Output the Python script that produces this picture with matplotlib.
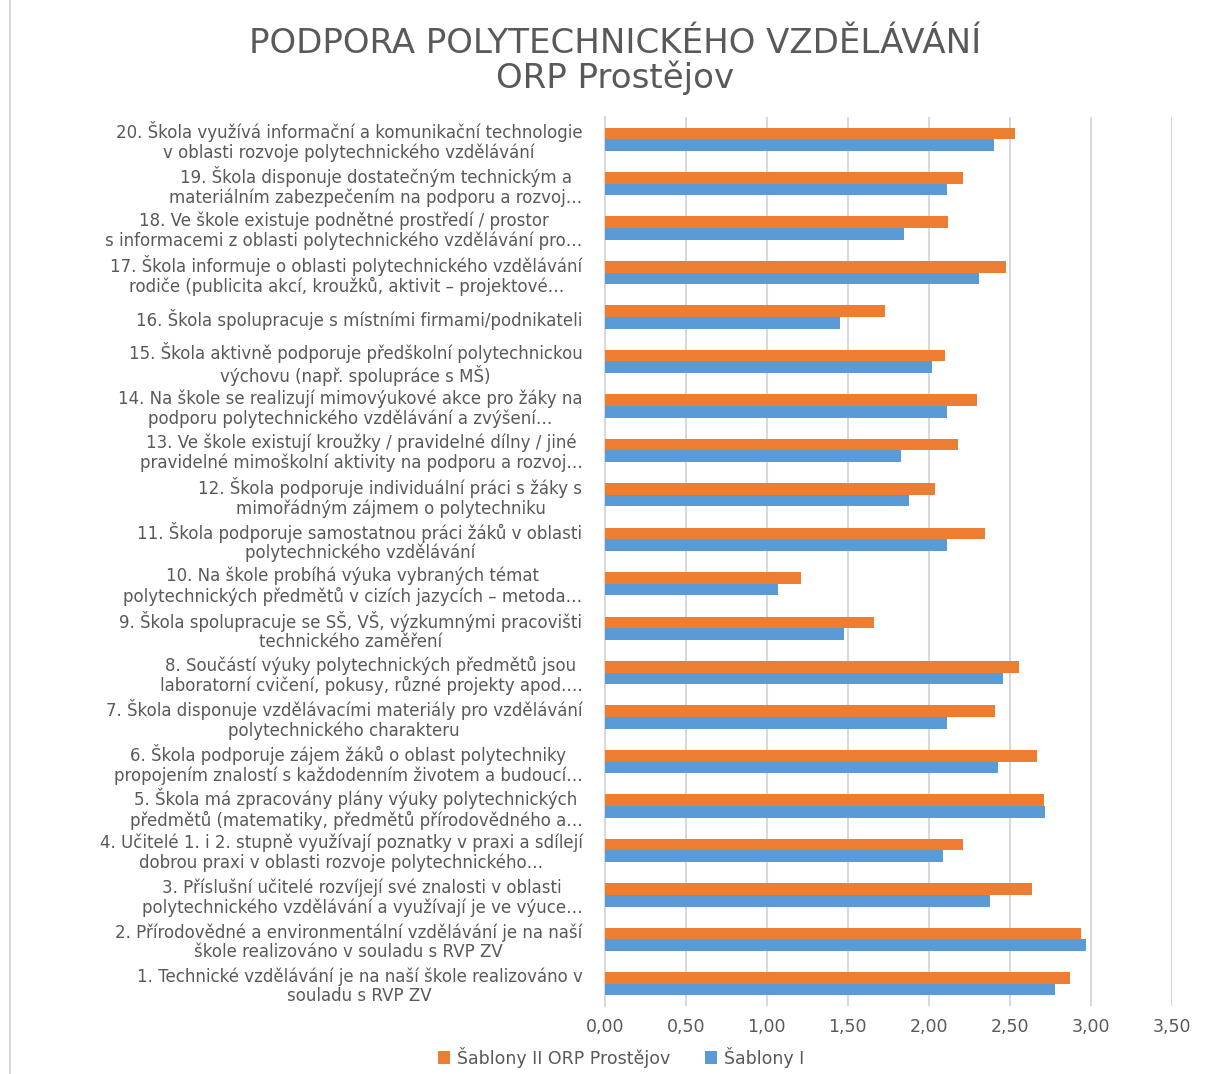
import numpy as np
import matplotlib.pyplot as plt
from matplotlib.lines import Line2D
from matplotlib.ticker import FuncFormatter

plt.rcParams['font.family'] = ['DejaVu Sans']

# popisky otázek (1 až 20), zkrácené jako v původním grafu
labels = [
    "1. Technické vzdělávání je na naší škole realizováno v\nsouladu s RVP ZV",
    "2. Přírodovědné a environmentální vzdělávání je na naší\nškole realizováno v souladu s RVP ZV",
    "3. Příslušní učitelé rozvíjejí své znalosti v oblasti\npolytechnického vzdělávání a využívají je ve výuce…",
    "4. Učitelé 1. i 2. stupně využívají poznatky v praxi a sdílejí\ndobrou praxi v oblasti rozvoje polytechnického…",
    "5. Škola má zpracovány plány výuky polytechnických\npředmětů (matematiky, předmětů přírodovědného a…",
    "6. Škola podporuje zájem žáků o oblast polytechniky\npropojením znalostí s každodenním životem a budoucí…",
    "7. Škola disponuje vzdělávacími materiály pro vzdělávání\npolytechnického charakteru",
    "8. Součástí výuky polytechnických předmětů jsou\nlaboratorní cvičení, pokusy, různé projekty apod.…",
    "9. Škola spolupracuje se SŠ, VŠ, výzkumnými pracovišti\ntechnického zaměření",
    "10. Na škole probíhá výuka vybraných témat\npolytechnických předmětů v cizích jazycích – metoda…",
    "11. Škola podporuje samostatnou práci žáků v oblasti\npolytechnického vzdělávání",
    "12. Škola podporuje individuální práci s žáky s\nmimořádným zájmem o polytechniku",
    "13. Ve škole existují kroužky / pravidelné dílny / jiné\npravidelné mimoškolní aktivity na podporu a rozvoj…",
    "14. Na škole se realizují mimovýukové akce pro žáky na\npodporu polytechnického vzdělávání a zvýšení…",
    "15. Škola aktivně podporuje předškolní polytechnickou\nvýchovu (např. spolupráce s MŠ)",
    "16. Škola spolupracuje s místními firmami/podnikateli",
    "17. Škola informuje o oblasti polytechnického vzdělávání\nrodiče (publicita akcí, kroužků, aktivit – projektové…",
    "18. Ve škole existuje podnětné prostředí / prostor\ns informacemi z oblasti polytechnického vzdělávání pro…",
    "19. Škola disponuje dostatečným technickým a\nmateriálním zabezpečením na podporu a rozvoj…",
    "20. Škola využívá informační a komunikační technologie\nv oblasti rozvoje polytechnického vzdělávání",
]

# průměrné hodnoty
sablony_ii = [2.87, 2.94, 2.64, 2.21, 2.71, 2.67, 2.41, 2.56, 1.66, 1.21,
              2.35, 2.04, 2.18, 2.30, 2.10, 1.73, 2.48, 2.12, 2.21, 2.53]
sablony_i = [2.78, 2.97, 2.38, 2.09, 2.72, 2.43, 2.11, 2.46, 1.48, 1.07,
             2.11, 1.88, 1.83, 2.11, 2.02, 1.45, 2.31, 1.85, 2.11, 2.40]

series_names = ["Šablony II ORP Prostějov", "Šablony I"]
c_orange = "#ED7D31"
c_blue = "#5B9BD5"
c_text = "#595959"
c_grid = "#D9D9D9"
fs = 12

W, H = 1208, 1074
fig = plt.figure(figsize=(W / 100, H / 100), dpi=100)
ax = fig.add_axes([604.7 / W, 1 - 1006 / H, (1171.7 - 604.7) / W, (1006 - 117) / H])

y = np.arange(len(labels))
h = 0.262
ax.barh(y + h / 2, sablony_ii, height=h, color=c_orange, label=series_names[0], zorder=3)
ax.barh(y - h / 2, sablony_i, height=h, color=c_blue, label=series_names[1], zorder=3)

ax.set_xlim(0, 3.5)
ax.set_ylim(-0.5, len(labels) - 0.5)
ax.set_xticks(np.arange(0, 3.51, 0.5))
ax.xaxis.set_major_formatter(FuncFormatter(lambda v, p: f"{v:.2f}".replace(".", ",")))
ax.grid(axis='x', color=c_grid, lw=1.5, zorder=0)

ax.set_yticks(y)
ax.set_yticklabels(labels, multialignment='center', fontsize=fs, color=c_text, linespacing=1.1)
ax.tick_params(axis='y', length=0, pad=16)
ax.tick_params(axis='x', length=0, pad=9, labelsize=12.5, labelcolor=c_text)

for s in ['top', 'right', 'bottom']:
    ax.spines[s].set_visible(False)
ax.spines['left'].set_color(c_grid)
ax.spines['left'].set_linewidth(1.5)

fig.text(615 / W, 1 - 61 / H, "PODPORA POLYTECHNICKÉHO VZDĚLÁVÁNÍ\nORP Prostějov",
         ha='center', va='center', fontsize=24.5, color=c_text, linespacing=1.0)

fig.legend(loc='center', bbox_to_anchor=(621 / W, 1 - 1057 / H), ncol=2, frameon=False,
           handlelength=0.7, handleheight=0.7, handletextpad=0.4, columnspacing=2.0,
           fontsize=12.5, labelcolor=c_text)

fig.add_artist(Line2D([10 / W, 10 / W], [0, 1], color=c_grid, lw=1.5))

fig.savefig("out.png", dpi=100)
